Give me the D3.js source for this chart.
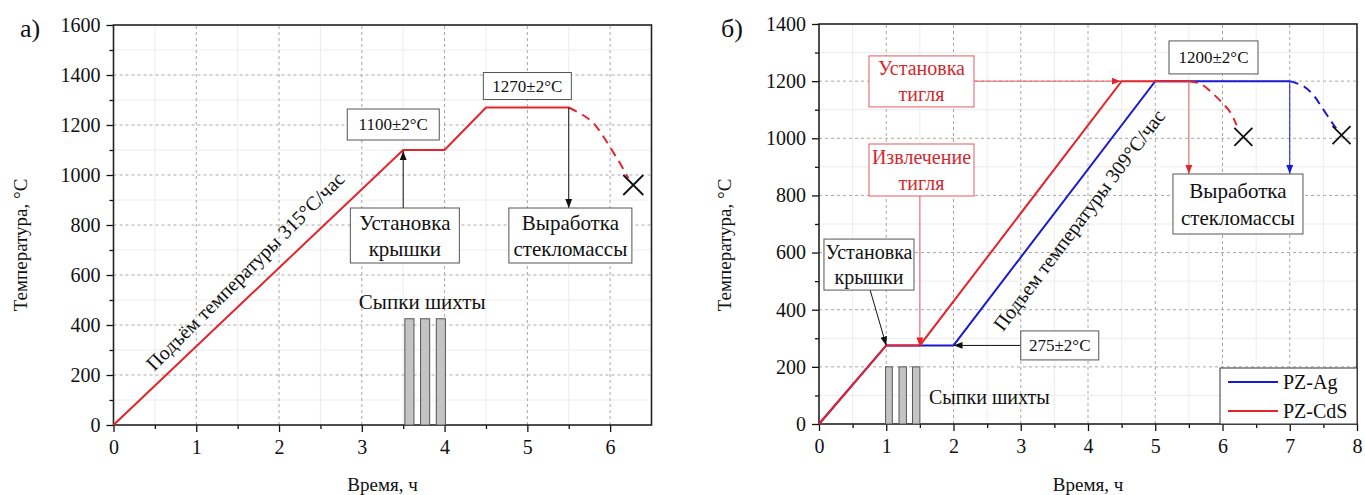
<!DOCTYPE html>
<html>
<head>
<meta charset="utf-8">
<script src="https://cdn.jsdelivr.net/npm/d3@7"></script>
<style>
body { margin: 0; background: #fff; }
svg text { font-family: "Liberation Serif", "Times New Roman", "DejaVu Serif", serif !important; }
</style>
</head>
<body>
<div id="chart"></div>
<script>
// ---- panel a) data ----
var timeA = [0, 3.5, 4.0, 4.5, 5.5];
var tempA = [0, 1100, 1100, 1270, 1270];
var coolTimeA = [5.5, 5.67, 5.80, 5.92, 6.02, 6.12, 6.22];
var coolTempA = [1270, 1240, 1207, 1153, 1100, 1047, 987];
var endA = [6.28, 960];
var batchStartA = [3.52, 3.71, 3.90];
var batchEndA = [3.63, 3.82, 4.01];
var batchTempA = 425;
var xTicksA = [0, 1, 2, 3, 4, 5, 6];
var yTicksA = [0, 200, 400, 600, 800, 1000, 1200, 1400, 1600];

// ---- panel б) data ----
var timeCdS = [0, 1, 1.5, 4.5, 5.5];
var tempCdS = [0, 275, 275, 1200, 1200];
var timeAg = [0, 1, 2, 5, 7];
var tempAg = [0, 275, 275, 1200, 1200];
var coolTimeCdS = [5.5, 5.68, 5.85, 5.98, 6.11, 6.21];
var coolTempCdS = [1200, 1190, 1158, 1128, 1093, 1046];
var coolTimeAg = [7.0, 7.2, 7.35, 7.47, 7.62, 7.69];
var coolTempAg = [1200, 1183, 1152, 1111, 1058, 1035];
var endCdS = [6.31, 1005];
var endAg = [7.77, 1011];
var batchStartB = [0.99, 1.19, 1.39];
var batchEndB = [1.09, 1.30, 1.50];
var batchTempB = 200;
var xTicksB = [0, 1, 2, 3, 4, 5, 6, 7, 8];
var yTicksB = [0, 200, 400, 600, 800, 1000, 1200, 1400];
var seriesNames = ["PZ-Ag", "PZ-CdS"];

var RED = "#e4232b", BLUE = "#1a1ad2", ANN_RED = "#e65a5f", TXT_RED = "#d4282e";
var FONT = '"Liberation Serif", "Times New Roman", serif';

var svg = d3.select("#chart").append("svg")
    .attr("width", 1365).attr("height", 495)
    .attr("font-family", FONT);

var defs = svg.append("defs");
function marker(id, color) {
    defs.append("marker")
        .attr("id", id).attr("viewBox", "0 0 10 10")
        .attr("refX", 10).attr("refY", 5)
        .attr("markerWidth", 9).attr("markerHeight", 9)
        .attr("markerUnits", "userSpaceOnUse")
        .attr("orient", "auto")
        .append("path").attr("d", "M0,1.2 L10,5 L0,8.8 z").attr("fill", color);
}
marker("arrBlack", "#111");
marker("arrRed", RED);
marker("arrBlue", BLUE);

function zip(xs, ys) { return xs.map(function (d, i) { return [d, ys[i]]; }); }

function panel(cfg) {
    var x = d3.scaleLinear().domain(cfg.xDomain).range(cfg.xRange);
    var y = d3.scaleLinear().domain(cfg.yDomain).range(cfg.yRange);
    var g = svg.append("g");
    var x0 = cfg.xRange[0], x1 = cfg.xRange[1], y0 = cfg.yRange[0], y1 = cfg.yRange[1];

    // minor grid
    var xMinor = d3.range(cfg.xDomain[0] + 0.5, cfg.xDomain[1], 1);
    var yMinor = d3.range(100, cfg.yDomain[1], 200);
    g.append("g").selectAll("line").data(xMinor).enter().append("line")
        .attr("x1", function (d) { return x(d); }).attr("x2", function (d) { return x(d); })
        .attr("y1", y0).attr("y2", y1).attr("stroke", "#ececec").attr("stroke-width", 1);
    g.append("g").selectAll("line").data(yMinor).enter().append("line")
        .attr("y1", function (d) { return y(d); }).attr("y2", function (d) { return y(d); })
        .attr("x1", x0).attr("x2", x1).attr("stroke", "#ececec").attr("stroke-width", 1);
    // major grid
    g.append("g").selectAll("line").data(cfg.xTicks.filter(function (d) { return d > cfg.xDomain[0] && d < cfg.xDomain[1]; }))
        .enter().append("line")
        .attr("x1", function (d) { return x(d); }).attr("x2", function (d) { return x(d); })
        .attr("y1", y0).attr("y2", y1)
        .attr("stroke", "#a8a8a8").attr("stroke-dasharray", "3,3");
    g.append("g").selectAll("line").data(cfg.yTicks.filter(function (d) { return d > cfg.yDomain[0] && d < cfg.yDomain[1]; }))
        .enter().append("line")
        .attr("y1", function (d) { return y(d); }).attr("y2", function (d) { return y(d); })
        .attr("x1", x0).attr("x2", x1)
        .attr("stroke", "#a8a8a8").attr("stroke-dasharray", "3,3");

    // axes
    var xAxis = d3.axisBottom(x).tickValues(cfg.xTicks).tickSize(7).tickPadding(8).tickFormat(d3.format("d"));
    var xAxisMinor = d3.axisBottom(x).tickValues(xMinor).tickSize(4).tickFormat("");
    var yAxis = d3.axisLeft(y).tickValues(cfg.yTicks).tickSize(7).tickPadding(6).tickFormat(d3.format("d"));
    var yAxisMinor = d3.axisLeft(y).tickValues(yMinor).tickSize(4).tickFormat("");
    [xAxis, xAxisMinor].forEach(function (a) {
        g.append("g").attr("transform", "translate(0," + y0 + ")").call(a).attr("font-family", FONT).attr("font-size", 20);
    });
    [yAxis, yAxisMinor].forEach(function (a) {
        g.append("g").attr("transform", "translate(" + x0 + ",0)").call(a).attr("font-family", FONT).attr("font-size", 20);
    });
    g.selectAll(".domain").remove();
    g.selectAll(".tick line").attr("stroke", "#111").attr("stroke-width", 1.3);
    g.selectAll(".tick text").attr("fill", "#111");

    // frame
    g.append("rect").attr("x", x0).attr("y", y1).attr("width", x1 - x0).attr("height", y0 - y1)
        .attr("fill", "none").attr("stroke", "#222").attr("stroke-width", 1.6);

    // titles
    g.append("text").attr("x", (x0 + x1) / 2).attr("y", 491).attr("text-anchor", "middle")
        .attr("font-size", 19).attr("fill", "#111").text("Время, ч");
    g.append("text").attr("transform", "translate(" + cfg.yTitleX + "," + 245 + ") rotate(-90)")
        .attr("text-anchor", "middle").attr("font-size", 19).attr("fill", "#111").text("Температура, °C");
    g.append("text").attr("x", cfg.letterX).attr("y", 37).attr("font-size", 26).attr("fill", "#111").text(cfg.letter);

    return { g: g, x: x, y: y };
}

function box(g, cx, cy, w, h, lines, opt) {
    opt = opt || {};
    var fs = opt.fs || 20, lh = opt.lh || 25;
    g.append("rect").attr("x", cx - w / 2).attr("y", cy - h / 2).attr("width", w).attr("height", h)
        .attr("fill", "#fff").attr("stroke", opt.stroke || "#555").attr("stroke-width", 1);
    lines.forEach(function (t, i) {
        g.append("text").attr("x", cx).attr("y", cy + (i - (lines.length - 1) / 2) * lh)
            .attr("dy", "0.35em").attr("text-anchor", "middle")
            .attr("font-size", fs).attr("fill", opt.color || "#111").text(t);
    });
}

function arrow(g, xa, ya, xb, yb, color, mk, w) {
    g.append("line").attr("x1", xa).attr("y1", ya).attr("x2", xb).attr("y2", yb)
        .attr("stroke", color).attr("stroke-width", w || 1).attr("marker-end", "url(#" + mk + ")");
}

function cross(g, px, py, r) {
    g.append("path").attr("d", "M" + (px - r) + "," + (py - r) + "L" + (px + r) + "," + (py + r) +
        "M" + (px - r) + "," + (py + r) + "L" + (px + r) + "," + (py - r))
        .attr("stroke", "#111").attr("stroke-width", 1.8).attr("fill", "none");
}

// ================= panel a =================
var A = panel({
    xDomain: [0, 6.5], xRange: [113.5, 651.5],
    yDomain: [0, 1600], yRange: [425, 25],
    xTicks: xTicksA, yTicks: yTicksA, yTitleX: 27, letterX: 20, letter: "а)"
});
var lineA = d3.line().x(function (d) { return A.x(d[0]); }).y(function (d) { return A.y(d[1]); });
var curveA = d3.line().curve(d3.curveCatmullRom).x(function (d) { return A.x(d[0]); }).y(function (d) { return A.y(d[1]); });

A.g.append("g").selectAll("rect").data(batchStartA).enter().append("rect")
    .attr("x", function (d) { return A.x(d); })
    .attr("width", function (d, i) { return A.x(batchEndA[i]) - A.x(d); })
    .attr("y", A.y(batchTempA)).attr("height", A.y(0) - A.y(batchTempA))
    .attr("fill", "#c4c4c4").attr("stroke", "#555").attr("stroke-width", 1);

A.g.append("path").attr("d", lineA(zip(timeA, tempA))).attr("fill", "none").attr("stroke", RED).attr("stroke-width", 2);
A.g.append("path").attr("d", curveA(zip(coolTimeA, coolTempA))).attr("fill", "none")
    .attr("stroke", RED).attr("stroke-width", 2).attr("stroke-dasharray", "9,6");
cross(A.g, A.x(endA[0]), A.y(endA[1]), 10);

A.g.append("text").attr("x", A.x(3.73)).attr("y", A.y(493)).attr("dy", "0.35em").attr("text-anchor", "middle")
    .attr("font-size", 21).attr("fill", "#111").text("Сыпки шихты");
A.g.append("text").attr("transform", "translate(" + A.x(1.59) + "," + A.y(616) + ") rotate(-45)")
    .attr("text-anchor", "middle").attr("dy", "0.35em").attr("font-size", 20).attr("fill", "#111")
    .text("Подъём температуры 315°C/час");

arrow(A.g, A.x(3.5), A.y(868), A.x(3.5), A.y(1100) + 1, "#111", "arrBlack");
arrow(A.g, A.x(5.5), A.y(1270), A.x(5.5), A.y(868), "#111", "arrBlack");
box(A.g, A.x(3.52), A.y(758), 109, 55, ["Установка", "крышки"], { fs: 21, lh: 26 });
box(A.g, A.x(5.52), A.y(758), 123, 55, ["Выработка", "стекломассы"], { fs: 21, lh: 26 });
box(A.g, A.x(3.38), A.y(1202), 92, 31, ["1100±2°C"], { fs: 17 });
box(A.g, A.x(5.0), A.y(1356), 88, 27, ["1270±2°C"], { fs: 17 });

// ================= panel б =================
var B = panel({
    xDomain: [0, 8], xRange: [819, 1357],
    yDomain: [0, 1400], yRange: [424, 24],
    xTicks: xTicksB, yTicks: yTicksB, yTitleX: 731, letterX: 721, letter: "б)"
});
var lineB = d3.line().x(function (d) { return B.x(d[0]); }).y(function (d) { return B.y(d[1]); });
var curveB = d3.line().curve(d3.curveCatmullRom).x(function (d) { return B.x(d[0]); }).y(function (d) { return B.y(d[1]); });

B.g.append("g").selectAll("rect").data(batchStartB).enter().append("rect")
    .attr("x", function (d) { return B.x(d); })
    .attr("width", function (d, i) { return B.x(batchEndB[i]) - B.x(d); })
    .attr("y", B.y(batchTempB)).attr("height", B.y(0) - B.y(batchTempB))
    .attr("fill", "#c4c4c4").attr("stroke", "#555").attr("stroke-width", 1);

// annotation lines under the curves
B.g.append("line").attr("x1", 974).attr("y1", B.y(1200)).attr("x2", B.x(4.5) - 1).attr("y2", B.y(1200))
    .attr("stroke", ANN_RED).attr("stroke-width", 1).attr("marker-end", "url(#arrRed)");
arrow(B.g, B.x(1.5), B.y(798), B.x(1.5), B.y(275) + 1, ANN_RED, "arrRed");

B.g.append("path").attr("d", lineB(zip(timeAg, tempAg))).attr("fill", "none").attr("stroke", BLUE).attr("stroke-width", 2);
B.g.append("path").attr("d", lineB(zip(timeCdS, tempCdS))).attr("fill", "none").attr("stroke", RED).attr("stroke-width", 2);
B.g.append("path").attr("d", curveB(zip(coolTimeCdS, coolTempCdS))).attr("fill", "none")
    .attr("stroke", RED).attr("stroke-width", 2).attr("stroke-dasharray", "9,6");
B.g.append("path").attr("d", curveB(zip(coolTimeAg, coolTempAg))).attr("fill", "none")
    .attr("stroke", BLUE).attr("stroke-width", 2).attr("stroke-dasharray", "9,6");
cross(B.g, B.x(endCdS[0]), B.y(endCdS[1]), 9);
cross(B.g, B.x(endAg[0]), B.y(endAg[1]), 9);

arrow(B.g, B.x(5.5), B.y(1200), B.x(5.5), B.y(875), ANN_RED, "arrRed");
arrow(B.g, B.x(7.0), B.y(1200), B.x(7.0), B.y(875), BLUE, "arrBlue");
arrow(B.g, B.x(0.76), B.y(469), B.x(1.0), B.y(275), "#111", "arrBlack");
arrow(B.g, B.x(3.0), B.y(275), B.x(2.0), B.y(275), "#111", "arrBlack");

box(B.g, B.x(1.524), B.y(1199), 105, 51, ["Установка", "тигля"], { fs: 20, lh: 26, color: TXT_RED, stroke: ANN_RED });
box(B.g, B.x(1.524), B.y(889), 105, 52, ["Извлечение", "тигля"], { fs: 20, lh: 26, color: TXT_RED, stroke: ANN_RED });
box(B.g, B.x(5.866), B.y(1283), 89, 33, ["1200±2°C"], { fs: 17 });
box(B.g, B.x(6.23), B.y(770), 130, 60, ["Выработка", "стекломассы"], { fs: 21, lh: 27 });
box(B.g, B.x(0.743), B.y(558), 90, 51, ["Установка", "крышки"], { fs: 20, lh: 25 });
box(B.g, B.x(3.58), B.y(275), 78, 29, ["275±2°C"], { fs: 17 });

B.g.append("text").attr("x", B.x(1.636)).attr("y", B.y(94.5)).attr("dy", "0.35em")
    .attr("font-size", 20).attr("fill", "#111").text("Сыпки шихты");
B.g.append("text").attr("transform", "translate(" + B.x(3.866) + "," + B.y(714) + ") rotate(-53)")
    .attr("text-anchor", "middle").attr("dy", "0.35em").attr("font-size", 20).attr("fill", "#111")
    .text("Подъем температуры 309°C/час");

// legend
var leg = B.g.append("g");
leg.append("rect").attr("x", 1220).attr("y", 368).attr("width", B.x(8) - 1220).attr("height", B.y(0) - 368)
    .attr("fill", "#fff").attr("stroke", "#333").attr("stroke-width", 1);
[BLUE, RED].forEach(function (c, i) {
    var yy = 382 + i * 29;
    leg.append("line").attr("x1", 1228).attr("x2", 1278).attr("y1", yy).attr("y2", yy)
        .attr("stroke", c).attr("stroke-width", 2);
    leg.append("text").attr("x", 1283).attr("y", yy).attr("dy", "0.35em").attr("font-size", 20)
        .attr("fill", "#111").text(seriesNames[i]);
});
</script>
</body>
</html>
